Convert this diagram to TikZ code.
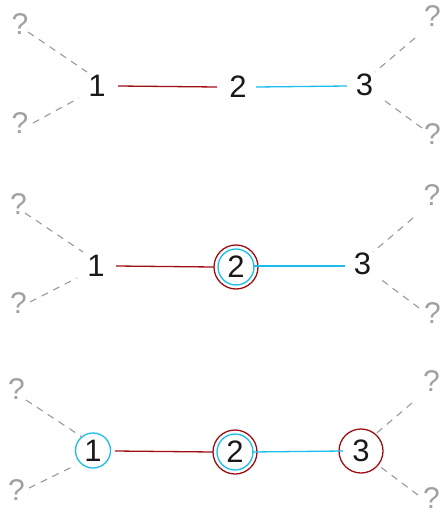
\documentclass[tikz,border=0pt]{standalone}
\usepackage{fontspec}
\setmainfont{Liberation Sans}
\definecolor{dred}{HTML}{A00E14}
\definecolor{cyanb}{HTML}{1CBCEB}
\definecolor{qgray}{HTML}{A0A0A0}
\definecolor{dgray}{HTML}{999999}
\tikzset{
  num/.style={inner sep=0pt, font=\fontsize{31}{31}\selectfont, text=black!90},
  qm/.style={inner sep=0pt, font=\fontsize{30}{30}\selectfont, text=qgray},
  qline/.style={draw=dgray, line width=1.1pt, dash pattern=on 7pt off 6pt},
  redline/.style={draw=dred, line width=1.3pt},
  blueline/.style={draw=cyanb, line width=1.3pt},
  redring/.style={draw=dred, line width=1.3pt},
  bluering/.style={draw=cyanb, line width=1.3pt},
}
\begin{document}
\begin{tikzpicture}[x=1pt, y=-1pt]
\useasboundingbox (0,0) rectangle (440,514);

% ---------- panel 1 ----------
\node[num] (a1) at (97,86) {1};
\node[num] (b1) at (238,87) {2};
\node[num] (c1) at (364.5,85) {3};
\node[qm] (qa1) at (20,24) {?};
\node[qm] (qb1) at (20,123.5) {?};
\node[qm] (qc1) at (432.5,16) {?};
\node[qm] (qd1) at (432.5,134) {?};
\draw[redline] ([shift={(21,0)}]a1.center) -- ([shift={(-21,0)}]b1.center);
\draw[blueline] ([shift={(18,0)}]b1.center) -- ([shift={(-17.5,1)}]c1.center);
\draw[qline] ([shift={(8,8)}]qa1.center) -- ([shift={(-10,-14)}]a1.center);
\draw[qline] ([shift={(13,-0.5)}]qb1.center) -- ([shift={(-18,12)}]a1.center);
\draw[qline] ([shift={(-17.5,22)}]qc1.center) -- ([shift={(10.5,-13)}]c1.center);
\draw[qline] ([shift={(-10.5,-6)}]qd1.center) -- ([shift={(16.5,13)}]c1.center);

% ---------- panel 2 ----------
\node[num] (a2) at (96,266) {1};
\node[num] (b2) at (236,267) {2};
\node[num] (c2) at (362.5,264) {3};
\node[qm] (qa2) at (18.5,204) {?};
\node[qm] (qb2) at (18.5,303.5) {?};
\node[qm] (qc2) at (432,195) {?};
\node[qm] (qd2) at (432.5,313) {?};
\draw[redring] (b2.center) circle[radius=22];
\draw[bluering] (b2.center) circle[radius=18];
\draw[redline] ([shift={(20,0)}]a2.center) -- ([shift={(-22,0)}]b2.center);
\draw[blueline] ([shift={(17,-1)}]b2.center) -- ([shift={(-17.5,2)}]c2.center);
\draw[qline] ([shift={(6.5,9)}]qa2.center) -- ([shift={(-13,-14)}]a2.center);
\draw[qline] ([shift={(11.5,-1.5)}]qb2.center) -- ([shift={(-19,12)}]a2.center);
\draw[qline] ([shift={(-19,23)}]qc2.center) -- ([shift={(10.5,-12)}]c2.center);
\draw[qline] ([shift={(-13.5,-5)}]qd2.center) -- ([shift={(16.5,14)}]c2.center);

% ---------- panel 3 ----------
\node[num] (a3) at (93,450.5) {1};
\node[num] (b3) at (235,452) {2};
\node[num] (c3) at (361,451) {3};
\node[qm] (qa3) at (16.5,389) {?};
\node[qm] (qb3) at (16.5,490) {?};
\node[qm] (qc3) at (431.5,381.5) {?};
\node[qm] (qd3) at (431.5,498) {?};
\draw[bluering] (a3.center) circle[radius=17.5];
\draw[redring] (b3.center) circle[radius=22];
\draw[bluering] (b3.center) circle[radius=18];
\draw[redring] (c3.center) circle[radius=22];
\draw[redline] ([shift={(22,0.5)}]a3.center) -- ([shift={(-22,0)}]b3.center);
\draw[blueline] ([shift={(17,0)}]b3.center) -- ([shift={(-18,0)}]c3.center);
\draw[qline] ([shift={(9.5,11)}]qa3.center) -- ([shift={(-11,-13.5)}]a3.center);
\draw[qline] ([shift={(12.5,-2)}]qb3.center) -- ([shift={(-17,14.5)}]a3.center);
\draw[qline] ([shift={(-19.5,21.5)}]qc3.center) -- ([shift={(11,-14)}]c3.center);
\draw[qline] ([shift={(-13.5,-3)}]qd3.center) -- ([shift={(17,14)}]c3.center);
\end{tikzpicture}
\end{document}
